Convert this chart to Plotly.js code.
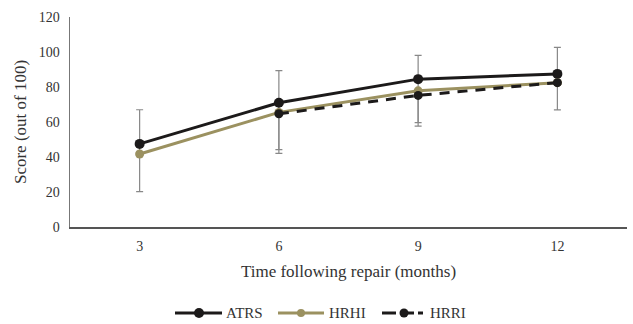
<!DOCTYPE html>
<html><head><meta charset="utf-8">
<script src="https://cdn.plot.ly/plotly-3.0.1.min.js"></script>
<style>body{margin:0;background:#fff}#chart{width:633px;height:324px}</style>
</head><body><div id="chart"></div>
<script>
const months = ['3', '6', '9', '12'];
const seriesNames = ['ATRS', 'HRHI', 'HRRI'];
const atrs = [47.5, 71, 84.5, 87.5];
const hrhi = [41.7, 65.5, 77.8, 82.5];
const hrri = [null, 64.7, 75.2, 82.5];
const atrsErrPlus = [19.5, 18.3, 13.6, 15.2];
const atrsErrMinus = [27.3, 28.9, 26.8, 20.6];
const hrhiErrPlus = [null, 0, 0, null];
const hrhiErrMinus = [null, 21.3, 18.2, null];

const serif = '"Liberation Serif", "Times New Roman", serif';
const black = '#1c1a1a';
const olive = '#9b9160';
const errStyle = (p, m) => ({type: 'data', symmetric: false, array: p, arrayminus: m, color: '#888', thickness: 1.2, width: 3.5});

const traces = [
  {x: months, y: atrs, name: seriesNames[0], type: 'scatter', mode: 'lines+markers',
   line: {color: black, width: 3}, marker: {color: black, size: 10},
   error_y: errStyle(atrsErrPlus, atrsErrMinus)},
  {x: months, y: hrhi, name: seriesNames[1], type: 'scatter', mode: 'lines+markers',
   line: {color: olive, width: 3}, marker: {color: olive, size: 9},
   error_y: errStyle(hrhiErrPlus, hrhiErrMinus)},
  {x: months, y: hrri, name: seriesNames[2], type: 'scatter', mode: 'lines+markers',
   line: {color: black, width: 3, dash: '10px,8px'}, marker: {color: black, size: 9}}
];

// custom legend (Plotly's legend symbol is fixed at 30px; reference uses longer swatches)
const M = {l: 70, r: 6, t: 17, b: 97, W: 633, H: 324};
const pw = M.W - M.l - M.r, ph = M.H - M.t - M.b;
const px = v => (v - M.l) / pw;
const py = v => (M.H - M.b - v) / ph;
const legendY = 313;
const legendItems = [
  {name: seriesNames[0], color: black, dash: 'solid', x0: 175, x1: 222, mx: 199, ms: 10, tx: 224},
  {name: seriesNames[1], color: olive, dash: 'solid', x0: 278, x1: 324, mx: 301, ms: 8, tx: 327},
  {name: seriesNames[2], color: black, dash: '14px,4px', x0: 382, x1: 423, mx: 404, ms: 9, tx: 428}
];
const shapes = [], annotations = [];
legendItems.forEach(it => {
  shapes.push({type: 'line', xref: 'paper', yref: 'paper', x0: px(it.x0), x1: px(it.x1), y0: py(legendY), y1: py(legendY),
               line: {color: it.color, width: 3, dash: it.dash}});
  shapes.push({type: 'circle', xref: 'paper', yref: 'paper', xsizemode: 'pixel', ysizemode: 'pixel',
               xanchor: px(it.mx), yanchor: py(legendY), x0: -it.ms / 2, x1: it.ms / 2, y0: -it.ms / 2, y1: it.ms / 2,
               fillcolor: it.color, line: {width: 0}});
  annotations.push({xref: 'paper', yref: 'paper', x: px(it.tx), y: py(legendY), xanchor: 'left', yanchor: 'middle',
                    text: it.name, showarrow: false, font: {family: serif, size: 15, color: '#333'}});
});

const layout = {
  width: M.W, height: M.H,
  margin: {l: M.l, r: M.r, t: M.t, b: M.b},
  paper_bgcolor: '#fff', plot_bgcolor: '#fff',
  font: {family: serif, size: 13, color: '#333'},
  showlegend: false,
  shapes: shapes, annotations: annotations,
  xaxis: {type: 'category', range: [-0.5, 3.5], showline: true, linecolor: '#555', linewidth: 1.5,
          showgrid: false, ticks: '', ticklabelstandoff: 6, tickfont: {family: serif, size: 14, color: '#333'},
          title: {text: 'Time following repair (months)', font: {family: serif, size: 17, color: '#333'}, standoff: 12}},
  yaxis: {range: [0, 120], dtick: 20, showline: true, linecolor: '#777', linewidth: 1.5,
          showgrid: false, ticks: '', zeroline: false, ticklabelstandoff: 6, tickfont: {family: serif, size: 14, color: '#333'},
          title: {text: 'Score (out of 100)', font: {family: serif, size: 17, color: '#333'}, standoff: 8}}
};
Plotly.newPlot('chart', traces, layout, {displayModeBar: false, staticPlot: true});
</script></body></html>
